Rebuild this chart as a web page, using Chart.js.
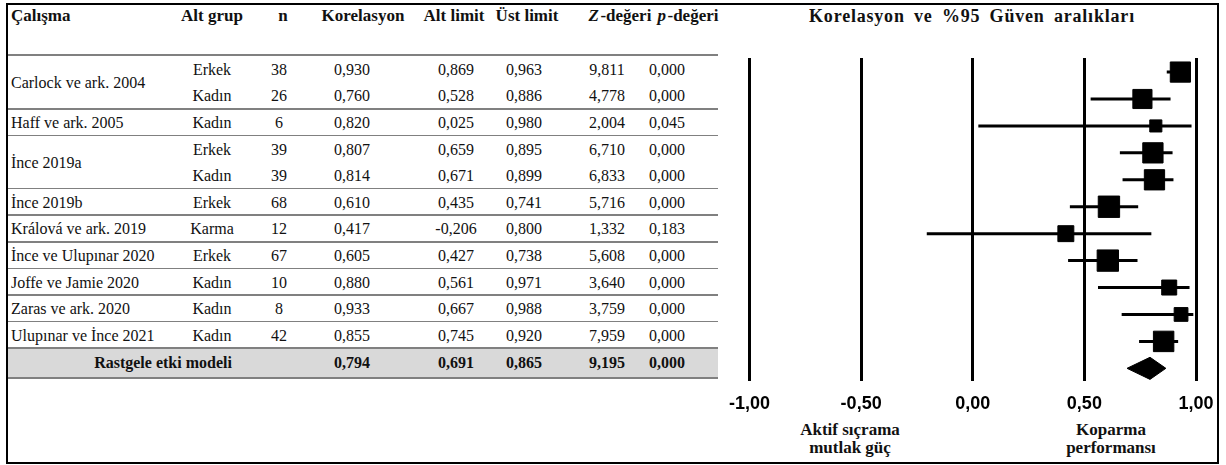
<!DOCTYPE html>
<html lang="tr">
<head>
<meta charset="utf-8">
<title>Korelasyon ve %95 Güven aralıkları</title>
<script src="https://cdn.jsdelivr.net/npm/chart.js@4.4.1/dist/chart.umd.min.js"></script>
<style>
  body { margin: 0; background: #fff; font-family: "Liberation Serif", "Times New Roman", serif; color: #111; }
  #frame { position: absolute; left: 6px; top: 3px; width: 1213px; height: 461px; border: 2px solid #000; box-sizing: border-box; }
  #table { position: absolute; left: 0; top: 0; width: 1226px; height: 465px; font-size: 16px; }
  .cell { position: absolute; white-space: nowrap; line-height: 18px; transform: translate(-50%, -50%); }
  .cell.left { transform: translate(0, -50%); }
  .bold { font-weight: bold; }
  .head { font-weight: bold; font-size: 17px; }
  .title { font-weight: bold; font-size: 18px; letter-spacing: 0.8px; word-spacing: 4px; }
  .rule { position: absolute; left: 8px; width: 710px; height: 1.5px; background: #808080; }
  .band { position: absolute; left: 8px; width: 710px; background: #d9d9d9; }
  #forest { position: absolute; left: 717px; top: 28px; width: 509px; height: 399px; }
</style>
</head>
<body>
<div id="frame"></div>
<div id="table"></div>
<div id="forest"><canvas id="forestChart"></canvas></div>
<script>
// studies and the table rows that belong to them
const studies = ['Carlock ve ark. 2004', 'Haff ve ark. 2005', 'İnce 2019a', 'İnce 2019b', 'Králová ve ark. 2019',
                 'İnce ve Ulupınar 2020', 'Joffe ve Jamie 2020', 'Zaras ve ark. 2020', 'Ulupınar ve İnce 2021'];
const rowStudy = [0, 0, 1, 2, 2, 3, 4, 5, 6, 7, 8];
const rowGroup = ['Erkek', 'Kadın', 'Kadın', 'Erkek', 'Kadın', 'Erkek', 'Karma', 'Erkek', 'Kadın', 'Kadın', 'Kadın'];
const rowN = [38, 26, 6, 39, 39, 68, 12, 67, 10, 8, 42];
const rowR = [0.930, 0.760, 0.820, 0.807, 0.814, 0.610, 0.417, 0.605, 0.880, 0.933, 0.855];
const rowLower = [0.869, 0.528, 0.025, 0.659, 0.671, 0.435, -0.206, 0.427, 0.561, 0.667, 0.745];
const rowUpper = [0.963, 0.886, 0.980, 0.895, 0.899, 0.741, 0.800, 0.738, 0.971, 0.988, 0.920];
const rowZ = [9.811, 4.778, 2.004, 6.710, 6.833, 5.716, 1.332, 5.608, 3.640, 3.759, 7.959];
const rowP = [0.000, 0.000, 0.045, 0.000, 0.000, 0.000, 0.183, 0.000, 0.000, 0.000, 0.000];

// random effects summary
const pooledLabel = 'Rastgele etki modeli';
const pooled = { r: 0.794, lower: 0.691, upper: 0.865, z: 9.195, p: 0.000 };

const xTicks = [-1, -0.5, 0, 0.5, 1];
const leftNote = ['Aktif sıçrama', 'mutlak güç'];
const rightNote = ['Koparma', 'performansı'];

const fmt = v => v.toFixed(3).replace('.', ',');

// ---- table ----
const table = document.getElementById('table');
function cell(html, x, y, cls) {
    const d = document.createElement('div');
    d.className = 'cell ' + (cls || '');
    d.style.left = x + 'px';
    d.style.top = y + 'px';
    d.innerHTML = html;
    table.appendChild(d);
}
function rule(y, h) {
    const d = document.createElement('div');
    d.className = 'rule';
    d.style.top = y + 'px';
    if (h) d.style.height = h + 'px';
    table.appendChild(d);
}

const headY = 16, rowTop = 56.5, rowH = 26.6;
const rowY = i => rowTop + rowH * (i + 0.5);
const headX = [212, 283, 363, 454, 527, 620, 688];
const valX = [212, 279, 352, 456, 524, 607, 667];

cell('Çalışma', 11, headY, 'left head');
['Alt grup', 'n', 'Korelasyon', 'Alt limit', 'Üst limit', '<i>Z</i>&#8202;-değeri', '<i>p</i>&#8202;-değeri']
    .forEach((t, k) => cell(t, headX[k], headY, 'head'));
rule(54, 2);

rowGroup.forEach((g, i) => {
    const y = rowY(i);
    [g, rowN[i], fmt(rowR[i]), fmt(rowLower[i]), fmt(rowUpper[i]), fmt(rowZ[i]), fmt(rowP[i])]
        .forEach((t, k) => cell(t, valX[k], y));
    // separator above the first row of each study
    if (i > 0 && rowStudy[i] !== rowStudy[i - 1]) rule(rowY(i) - 15);
});
studies.forEach((s, k) => {
    const rows = rowStudy.map((st, i) => st === k ? i : -1).filter(i => i >= 0);
    const y = (rowY(rows[0]) + rowY(rows[rows.length - 1])) / 2;
    cell(s, 11, y, 'left');
});

// pooled row on a grey band
const bandTop = rowY(rowGroup.length) - 15;
const band = document.createElement('div');
band.className = 'band';
band.style.top = bandTop + 'px';
band.style.height = '30px';
table.appendChild(band);
rule(bandTop);
rule(bandTop + 30);
const py = bandTop + 16;
cell(pooledLabel, 163, py, 'bold');
[fmt(pooled.r), fmt(pooled.lower), fmt(pooled.upper), fmt(pooled.z), fmt(pooled.p)]
    .forEach((t, k) => cell(t, valX[k + 2], py, 'bold'));

// plot title and side notes
cell('Korelasyon ve %95 Güven aralıkları', 972, headY, 'title');
leftNote.forEach((t, k) => cell(t, 850, 430 + 18 * k, 'head'));
rightNote.forEach((t, k) => cell(t, 1111, 430 + 18 * k, 'head'));

// ---- forest plot ----
const last = rowGroup.length;           // y index of the summary diamond
const markSide = n => 24 * n / (n + 5); // square size grows with sample size
const diamondHalf = 0.41;

const ciSets = rowLower.map((lo, i) => ({
    data: [{ x: lo, y: i }, { x: rowUpper[i], y: i }],
    showLine: true,
    borderColor: '#000',
    borderWidth: 3,
    pointRadius: 0
}));

const squares = {
    data: rowR.map((r, i) => ({ x: r, y: i })),
    pointStyle: 'rect',
    pointRadius: rowN.map(n => (markSide(n) - 1) / Math.SQRT2),
    pointBackgroundColor: '#000',
    pointBorderColor: '#000',
    pointBorderWidth: 1,
    showLine: false
};

const diamond = {
    data: [
        { x: pooled.lower, y: last },
        { x: pooled.r, y: last - diamondHalf },
        { x: pooled.upper, y: last },
        { x: pooled.r, y: last + diamondHalf },
        { x: pooled.lower, y: last }
    ],
    showLine: true,
    fill: 'shape',
    backgroundColor: '#000',
    borderColor: '#000',
    borderWidth: 1,
    pointRadius: 0,
    tension: 0
};

const ctx = document.getElementById('forestChart').getContext('2d');
const forestChart = new Chart(ctx, {
    type: 'scatter',
    data: { datasets: [...ciSets, squares, diamond] },
    options: {
        responsive: true,
        maintainAspectRatio: false,
        animation: false,
        layout: { padding: { left: 30, right: 30, top: 30, bottom: 0 } },
        plugins: { legend: { display: false }, tooltip: { enabled: false } },
        scales: {
            x: {
                type: 'linear',
                min: xTicks[0],
                max: xTicks[xTicks.length - 1],
                afterBuildTicks: axis => { axis.ticks = xTicks.map(v => ({ value: v })); },
                ticks: {
                    color: '#000',
                    padding: 12,
                    font: { family: 'Liberation Sans', size: 18, weight: 'bold' },
                    callback: v => v.toFixed(2).replace('.', ',')
                },
                grid: { color: '#000', lineWidth: 3, drawTicks: false },
                border: { display: false }
            },
            y: { type: 'linear', reverse: true, min: -0.522, max: 11.485, display: false }
        }
    }
});
</script>
</body>
</html>
